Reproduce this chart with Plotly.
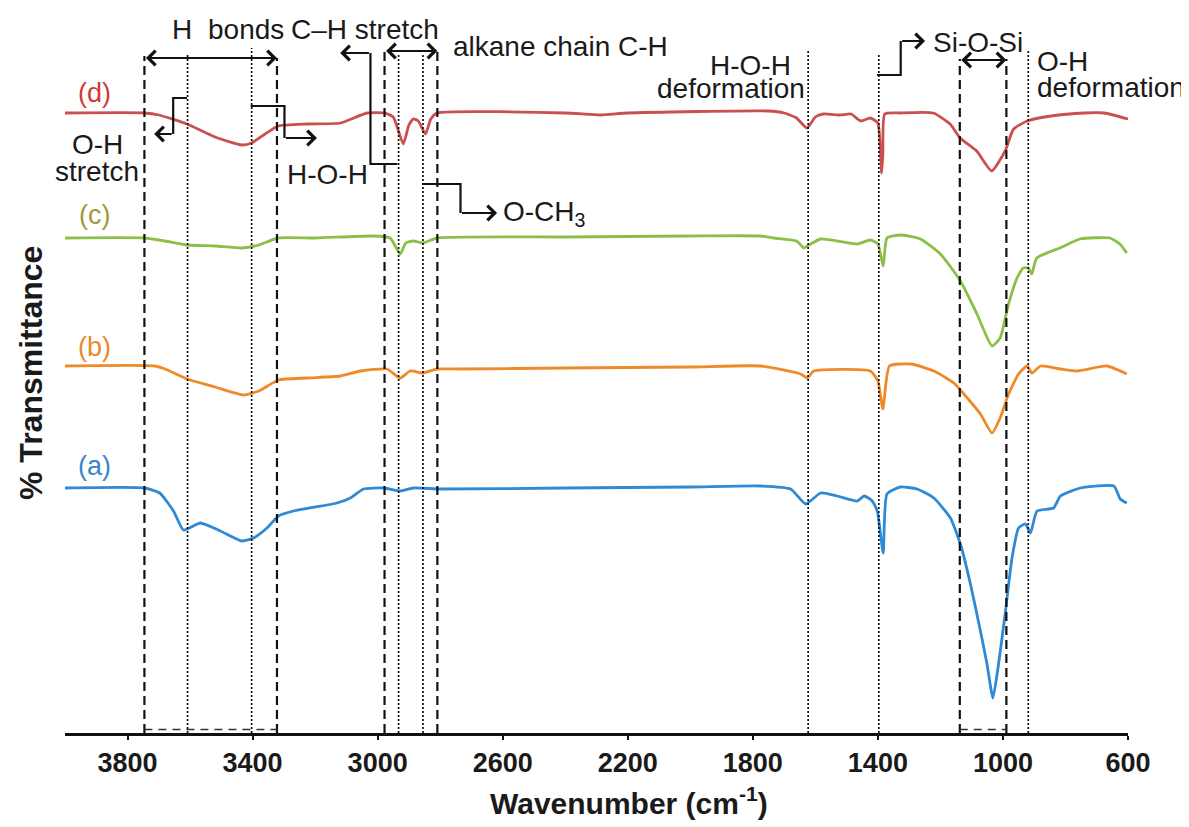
import plotly.graph_objects as go

# ---------------- data (wavenumber cm-1, offset % transmittance) ----------------
wn_d = [4000, 3746, 3700, 3610, 3520, 3434, 3403, 3360, 3318, 3226, 3119, 3034, 2978, 2950, 2918, 2900,
        2886, 2870, 2847, 2830, 2810, 2400, 2287, 2200, 1752, 1700, 1660, 1627, 1600, 1575, 1520, 1486,
        1455, 1424, 1400, 1388, 1384, 1378, 1330, 1223, 1169, 1137, 1084, 1036, 993, 966, 922, 846, 740, 676, 600]
t_d = [62.0, 62.0, 61.8, 60.9, 59.6, 58.8, 59.0, 59.9, 60.7, 60.9, 61.0, 62.0, 62.0, 61.6, 58.9, 60.8,
       61.4, 61.2, 59.9, 61.4, 62.0, 62.0, 61.8, 62.0, 62.2, 62.0, 61.5, 60.5, 61.6, 61.9, 61.8, 61.9,
       61.2, 61.5, 61.0, 56.0, 58.0, 61.9, 62.0, 62.0, 60.9, 59.5, 58.2, 56.2, 58.2, 60.4, 61.2, 61.7, 62.0, 62.0, 61.4]

wn_c = [4000, 3746, 3680, 3610, 3520, 3434, 3380, 3318, 3200, 3014, 2960, 2928, 2910, 2886, 2855, 2810,
        2400, 2000, 1775, 1733, 1660, 1637, 1626, 1583, 1466, 1424, 1400, 1383, 1371, 1328, 1264, 1200,
        1136, 1083, 1035, 1009, 982, 955, 935, 919, 908, 892, 818, 754, 658, 626, 604]
t_c = [49.5, 49.5, 49.2, 48.8, 48.7, 48.5, 48.8, 49.5, 49.5, 49.7, 49.5, 47.9, 49.0, 49.2, 49.0, 49.5,
       49.6, 49.7, 49.7, 49.5, 49.2, 48.5, 48.7, 49.4, 48.9, 49.3, 48.9, 46.7, 49.5, 49.8, 49.4, 47.9,
       45.2, 41.9, 38.7, 39.5, 42.9, 45.5, 46.5, 46.5, 45.9, 47.5, 48.5, 49.4, 49.5, 48.9, 48.0]

wn_b = [4000, 3713, 3680, 3610, 3520, 3429, 3380, 3317, 3226, 3119, 3055, 2970, 2928, 2896, 2855, 2810,
        2735, 2400, 2000, 1775, 1647, 1626, 1605, 1424, 1400, 1384, 1363, 1293, 1221, 1157, 1114, 1072,
        1035, 1009, 982, 950, 923, 907, 880, 816, 763, 667, 604]
t_b = [36.7, 36.7, 36.4, 35.4, 34.6, 33.8, 34.2, 35.3, 35.5, 35.7, 36.2, 36.4, 35.5, 36.2, 36.0, 36.4,
       36.4, 36.5, 36.6, 36.7, 35.9, 35.5, 36.2, 36.2, 35.2, 32.4, 36.7, 36.9, 36.2, 35.0, 33.5, 31.9,
       30.0, 31.5, 33.9, 35.9, 36.7, 36.0, 36.7, 36.4, 36.2, 36.7, 35.9]

wn_a = [4000, 3746, 3697, 3653, 3621, 3567, 3503, 3434, 3397, 3354, 3317, 3269, 3130, 3087, 3045, 2981,
        2928, 2886, 2800, 2400, 2000, 1775, 1679, 1631, 1583, 1530, 1466, 1444, 1418, 1402, 1383, 1371,
        1328, 1275, 1221, 1168, 1136, 1104, 1072, 1051, 1032, 1014, 993, 971, 950, 928, 912, 891, 838,
        816, 752, 645, 625, 604]
t_a = [24.5, 24.5, 24.0, 22.2, 20.3, 21.0, 20.2, 19.2, 19.5, 20.5, 21.7, 22.2, 23.0, 23.5, 24.4, 24.5,
       24.2, 24.5, 24.4, 24.5, 24.6, 24.7, 24.4, 22.9, 24.0, 23.7, 23.2, 23.7, 23.2, 22.2, 18.0, 23.9,
       24.6, 24.4, 23.5, 21.5, 18.9, 14.9, 10.2, 6.9, 3.5, 6.9, 11.9, 17.5, 20.5, 20.9, 20.0, 22.2, 22.5,
       23.7, 24.5, 24.7, 23.4, 23.0]

series_names = ["(d)", "(c)", "(b)", "(a)"]
series_wn = [wn_d, wn_c, wn_b, wn_a]
series_t = [t_d, t_c, t_b, t_a]
line_colors = ["#C9504E", "#8CBF48", "#EF8A28", "#2E8AD5"]
label_colors = ["#D03A38", "#9E9A3C", "#E8892E", "#3A86C8"]
label_y = [64.0, 51.8, 38.6, 26.7]

x_ticks = [3800, 3400, 3000, 2600, 2200, 1800, 1400, 1000, 600]

dashed_wn = [3746, 3322, 2978, 2809, 1138, 989]
dashed_top = [67.7, 67.5, 68.2, 68.2, 67.4, 67.4]
dotted_wn = [3608, 3403, 2933, 2855, 1623, 1397, 919]
dotted_top = [68.0, 68.5, 67.9, 67.9, 68.4, 68.0, 68.2]

# bracket arrows (polyline; arrowhead on last point)
brackets = [
    [(3610, 63.5), (3654, 63.5), (3654, 59.9), (3715, 59.9)],   # O-H stretch
    [(3406, 62.7), (3298, 62.7), (3298, 59.5), (3194, 59.5)],   # H-O-H
    [(2937, 56.9), (3023, 56.9), (3023, 68.0), (3120, 68.0)],   # C-H stretch
    [(2857, 54.9), (2735, 54.9), (2735, 52.0), (2618, 52.0)],   # O-CH3
    [(1403, 65.8), (1327, 65.8), (1327, 69.2), (1249, 69.2)],   # Si-O-Si
]
double_arrows = [((3746, 67.5), (3322, 67.5)), ((2978, 68.2), (2809, 68.2)), ((1138, 67.3), (989, 67.3))]

# text labels: (text, wavenumber, y, anchor)
texts = [
    ("H", 3626, 70.4, "center"), ("bonds", 3420, 70.4, "center"), ("C\u2013H stretch", 3040, 70.4, "center"),
    ("alkane chain C-H", 2764, 68.7, "left"),
    ("O-H", 3895, 58.9, "center"), ("stretch", 3897, 56.2, "center"),
    ("H-O-H", 3161, 55.9, "center"),
    ("O-CH<sub>3</sub>", 2607, 52.0, "left"),
    ("H-O-H", 1806, 66.8, "center"), ("deformation", 1870, 64.5, "center"),
    ("Si-O-Si", 1231, 69.1, "left"),
    ("O-H", 897, 67.2, "left"), ("deformation", 897, 64.6, "left"),
]

# ---------------- figure ----------------
fig = go.Figure()
for wn, t, col in zip(series_wn, series_t, line_colors):
    fig.add_trace(go.Scatter(x=wn, y=t, mode="lines",
                             line=dict(color=col, width=2.8, shape="spline", smoothing=0.5),
                             showlegend=False, hoverinfo="skip"))

shapes = []
for w, top in zip(dashed_wn, dashed_top):
    shapes.append(dict(type="line", x0=w, x1=w, y0=0, y1=top, xref="x", yref="y",
                       line=dict(color="#111", width=2.2, dash="9px,5px")))
for w, top in zip(dotted_wn, dotted_top):
    shapes.append(dict(type="line", x0=w, x1=w, y0=0, y1=top, xref="x", yref="y",
                       line=dict(color="#111", width=1.7, dash="2px,2px")))
for x0, x1 in [(3746, 3322), (1138, 989)]:
    shapes.append(dict(type="line", x0=x0, x1=x1, y0=0.35, y1=0.35, xref="x", yref="y",
                       line=dict(color="#333", width=1.6, dash="8px,6px")))

annotations = []
for pts in brackets:
    path = "M " + " L ".join(f"{x},{y}" for x, y in pts[:-1])
    shapes.append(dict(type="path", path=path, xref="x", yref="y", line=dict(color="#111", width=2.2)))
    (ax, ay), (x, y) = pts[-2], pts[-1]
    annotations.append(dict(x=x, y=y, ax=ax, ay=ay, xref="x", yref="y", axref="x", ayref="y",
                            text="", showarrow=True, arrowhead=4, arrowsize=1.3, arrowwidth=2.2,
                            arrowcolor="#111"))
for (xa, ya), (xb, yb) in double_arrows:
    annotations.append(dict(x=xb, y=yb, ax=xa, ay=ya, xref="x", yref="y", axref="x", ayref="y",
                            text="", showarrow=True, arrowhead=4, startarrowhead=4, arrowside="end+start",
                            arrowsize=1.3, startarrowsize=1.3, arrowwidth=2.2, arrowcolor="#111"))

text_font = dict(family="Liberation Sans, Arial, sans-serif", size=28, color="#1a1a1a")
for txt, w, yv, anc in texts:
    annotations.append(dict(x=w, y=yv, xref="x", yref="y", text=txt, showarrow=False,
                            xanchor=anc, yanchor="middle", font=text_font))

for name, col, yv in zip(series_names, label_colors, label_y):
    annotations.append(dict(x=3906, y=yv, xref="x", yref="y", text=name, showarrow=False,
                            xanchor="center", yanchor="middle",
                            font=dict(family="Liberation Sans, Arial, sans-serif", size=27, color=col)))

bold_family = "Liberation Sans Narrow, Arial Narrow, Liberation Sans, Arial, sans-serif"
annotations.append(dict(x=-0.032, y=0.5, xref="paper", yref="paper", text="<b>% Transmittance</b>",
                        showarrow=False, textangle=-90, xanchor="center", yanchor="middle",
                        font=dict(family=bold_family, size=32, color="#1a1a1a")))
annotations.append(dict(x=0.531, y=-0.094, xref="paper", yref="paper",
                        text="<b>Wavenumber (cm<sup>-1</sup>)</b>",
                        showarrow=False, xanchor="center", yanchor="middle",
                        font=dict(family=bold_family, size=30, color="#1a1a1a")))

fig.update_layout(
    width=1189, height=827,
    margin=dict(l=57, r=69, t=5, b=102),
    paper_bgcolor="white", plot_bgcolor="white",
    shapes=shapes, annotations=annotations,
    xaxis=dict(range=[4000, 600], tickmode="array", tickvals=x_ticks,
               ticktext=[f"<b>{v}</b>" for v in x_ticks],
               showline=True, linecolor="#111", linewidth=2.5, ticks="outside", ticklen=4,
               tickwidth=2, tickcolor="#111", showgrid=False, zeroline=False,
               tickfont=dict(family=bold_family, size=27, color="#1a1a1a")),
    yaxis=dict(range=[0, 72], showticklabels=False, showgrid=False, zeroline=False, showline=False,
               ticks=""),
)

fig.write_html("out.html")
